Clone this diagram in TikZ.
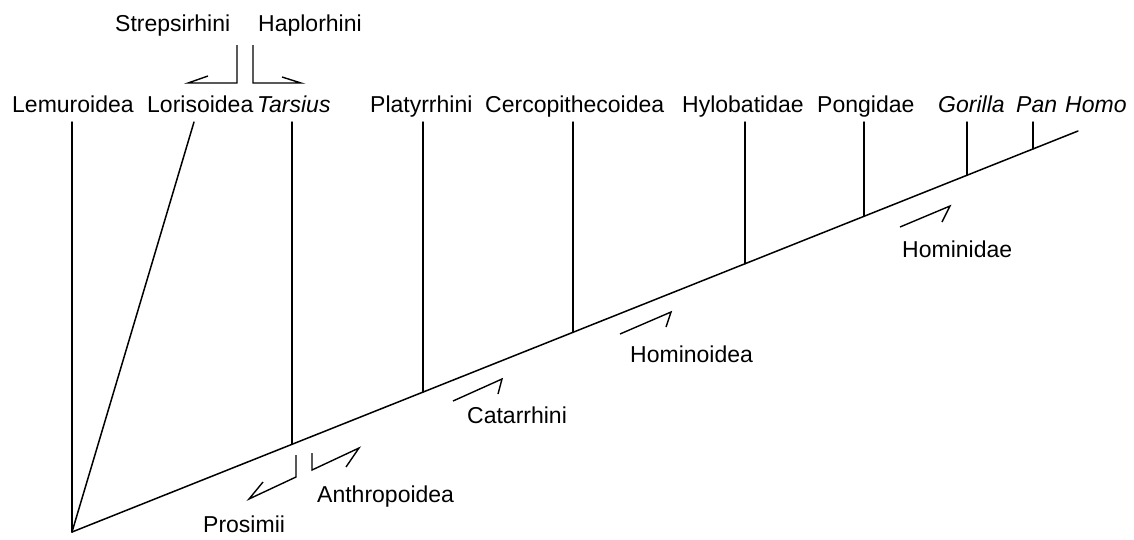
\documentclass[tikz,border=0pt]{standalone}
\usepackage{fontspec}
\setmainfont{Liberation Sans}
\begin{document}
\begin{tikzpicture}[x=1pt,y=-1pt,
  tree/.style={line width=1.5pt,line cap=round},
  harp/.style={line width=1.4pt,line join=miter},
  lbl/.style={inner sep=0pt,anchor=base west,font=\fontsize{23}{27}\selectfont}]
\useasboundingbox (0,0) rectangle (1134,539);
% tree coordinates
\coordinate (root) at (72,532);
\coordinate (tip) at (1078,131);
\coordinate (lemT) at (72,122);
\coordinate (lorT) at (194,122);
\coordinate (tarT) at (292,122);
\coordinate (tarJ) at (292,444.3);
\coordinate (plaT) at (423,122);
\coordinate (plaJ) at (423,392.1);
\coordinate (cerT) at (573,122);
\coordinate (cerJ) at (573,332.3);
\coordinate (hylT) at (745,122);
\coordinate (hylJ) at (745,263.7);
\coordinate (ponT) at (864,122);
\coordinate (ponJ) at (864,216.3);
\coordinate (gorT) at (967,122);
\coordinate (gorJ) at (967,175.3);
\coordinate (panT) at (1033,122);
\coordinate (panJ) at (1033,148.9);
% tree
\draw[tree] (root) -- (tip);
\draw[tree] (lemT) -- (root);
\draw[tree] (lorT) -- (root);
\draw[tree] (tarT) -- (tarJ);
\draw[tree] (plaT) -- (plaJ);
\draw[tree] (cerT) -- (cerJ);
\draw[tree] (hylT) -- (hylJ);
\draw[tree] (ponT) -- (ponJ);
\draw[tree] (gorT) -- (gorJ);
\draw[tree] (panT) -- (panJ);
% labels
\node[lbl] (strep) at (115,31) {Strepsirhini};
\node[lbl] (haplo) at (258,31) {Haplorhini};
\node[lbl] (lemur) at (12,112) {Lemuroidea};
\node[lbl] (loris) at (147,112) {Lorisoidea};
\node[lbl] (tars) at (257,112) {\itshape Tarsius};
\node[lbl] (platy) at (370,112) {Platyrrhini};
\node[lbl] (cerco) at (485,112) {Cercopithecoidea};
\node[lbl] (hylo) at (682,112) {Hylobatidae};
\node[lbl] (pong) at (817,112) {Pongidae};
\node[lbl] (gor) at (938,112) {\itshape Gorilla};
\node[lbl] (pan) at (1016,112) {\itshape Pan};
\node[lbl] (homo) at (1065,112) {\itshape Homo};
\node[lbl] (catar) at (467,423) {Catarrhini};
\node[lbl] (homoid) at (630,362) {Hominoidea};
\node[lbl] (homid) at (902,257) {Hominidae};
\node[lbl] (anthro) at (317,502) {Anthropoidea};
\node[lbl] (prosi) at (203,532) {Prosimii};
% harpoon brackets
\draw[harp] (237,45) -- (237,83) -- (188,83) -- (208,76);
\draw[harp] (253,45) -- (253,83) -- (301,83) -- (282,77);
\draw[harp] (296,455) -- (296,477) -- (249,499) -- (263,482);
\draw[harp] (312,453) -- (312,470) -- (359,448) -- (346,467);
\draw[harp] (453,401) -- (502,379) -- (498,394);
\draw[harp] (620,334) -- (671,312) -- (666,327);
\draw[harp] (900,227) -- (950,206) -- (942,222);
\end{tikzpicture}
\end{document}
